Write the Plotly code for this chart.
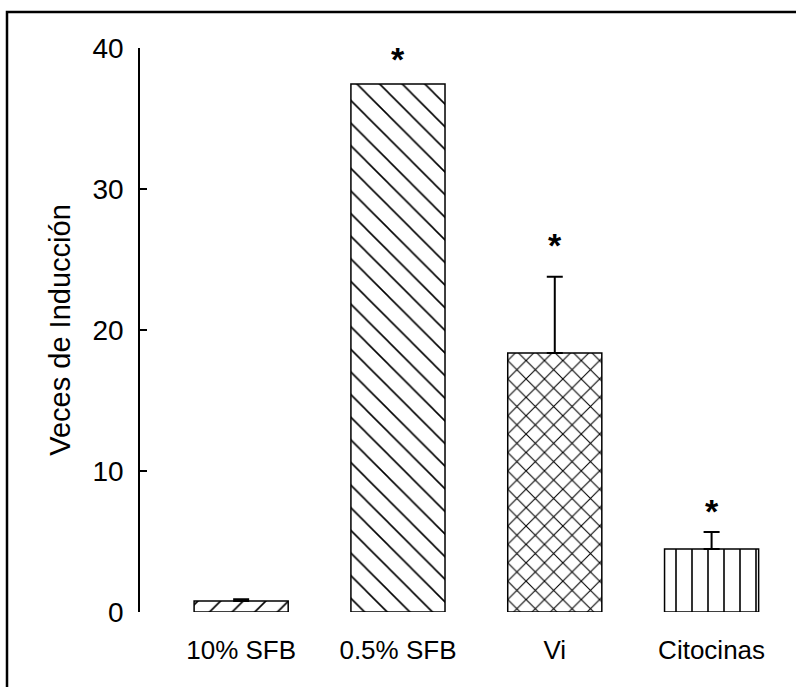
import plotly.graph_objects as go

categories = ["10% SFB", "0.5% SFB", "Vi", "Citocinas"]
values = [0.78, 37.45, 18.37, 4.47]
errors = [0.12, None, 5.4, 1.2]
star_y = [None, 39.5, 26.3, 7.45]
patterns = ["/", "\\", "x", "|"]
y_ticks = [0, 10, 20, 30, 40]

FONT = "Liberation Sans, Arial, sans-serif"
W, H = 796, 687
ML, MR, MT, MB = 140, 6, 48, 75
PW, PH = W - ML - MR, H - MT - MB

fig = go.Figure()
fig.add_trace(go.Bar(
    x=list(range(len(categories))), y=values, width=0.6,
    marker=dict(color="white", line=dict(color="black", width=1.5),
                pattern=dict(shape=patterns, size=[16, 16, 13, 16],
                             solidity=[0.1, 0.1, 0.16, 0.1],
                             fgcolor="black", fgopacity=1, bgcolor="white",
                             fillmode="overlay")),
    showlegend=False,
))

err_idx = [i for i, e in enumerate(errors) if e]
fig.add_trace(go.Scatter(
    x=err_idx, y=[values[i] for i in err_idx], mode="markers",
    marker=dict(size=1, opacity=0),
    error_y=dict(type="data", symmetric=False, array=[errors[i] for i in err_idx],
                 arrayminus=[0] * len(err_idx), color="black", thickness=2, width=8),
    showlegend=False, hoverinfo="skip",
))

for i, sy in enumerate(star_y):
    if sy is not None:
        fig.add_annotation(x=i, y=sy, text="<b>*</b>", showarrow=False,
                           font=dict(family=FONT, size=34, color="black"),
                           xanchor="center", yanchor="middle", yshift=-4)

def px_x(p):
    return (p - ML) / PW

def px_y(p):
    return (H - MB - p) / PH

fig.add_shape(type="path", xref="paper", yref="paper",
              path=f"M {px_x(7)} {px_y(700)} L {px_x(7)} {px_y(12)} L {px_x(810)} {px_y(12)}",
              line=dict(color="black", width=2.5))

fig.update_layout(
    width=W, height=H, margin=dict(l=ML, r=MR, t=MT, b=MB),
    paper_bgcolor="white", plot_bgcolor="white",
    font=dict(family=FONT, color="black"),
    xaxis=dict(range=[-0.645, 3.5], tickvals=list(range(len(categories))),
               ticktext=categories, showline=False, showgrid=False, zeroline=False,
               ticks="", tickfont=dict(size=26), ticklabelstandoff=20),
    yaxis=dict(range=[0, 40], tickvals=y_ticks, showline=True, linecolor="black",
               linewidth=1.5, ticks="inside", ticklen=7, tickwidth=1.5, tickcolor="black",
               showgrid=False, zeroline=False, tickfont=dict(size=28),
               ticklabelstandoff=9,
               title=dict(text="Veces de Inducción", font=dict(size=29), standoff=13)),
)

fig.write_html("out.html")
